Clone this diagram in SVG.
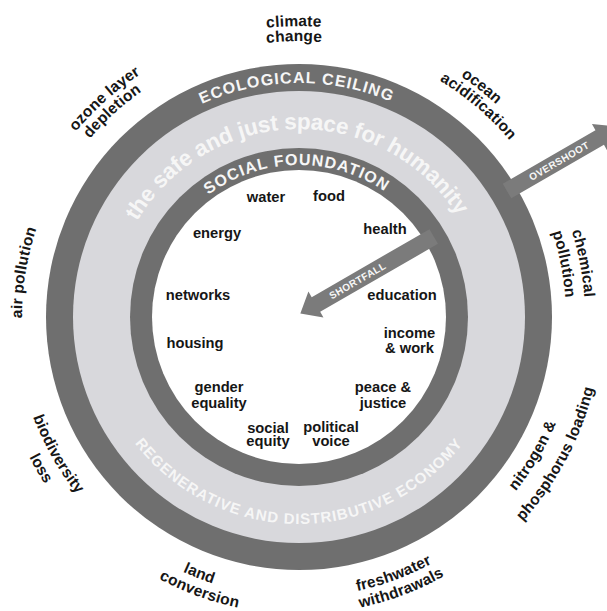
<svg xmlns="http://www.w3.org/2000/svg" width="607" height="611" viewBox="0 0 607 611">
<style>
  .f{font-family:"Liberation Sans",Arial,Helvetica,sans-serif;font-weight:bold;}
  .lbl{fill:#161616;}
  .out{font-size:15.5px;letter-spacing:0.2px;text-anchor:middle;}
  .in{font-size:14.7px;text-anchor:middle;}
  .wt{fill:#f6f6f6;text-anchor:middle;}
  .dark{fill:#6f6f6f;}
  .light{fill:#d8d8dc;}
  .arrow{fill:#7b7b7b;}
</style>
<defs>
  <!-- top arcs (clockwise, midpoint at top) -->
  <path id="t291" d="M 8 317 A 291 291 0 0 1 590 317"/>
  <path id="t276" d="M 23 317 A 276 276 0 0 1 575 317"/>
  <path id="t290" d="M 9 317 A 290 290 0 0 1 589 317"/>
  <path id="t275" d="M 24 317 A 275 275 0 0 1 574 317"/>
  <path id="t286" d="M 13 317 A 286 286 0 0 1 585 317"/>
  <path id="t267" d="M 32 317 A 267 267 0 0 1 566 317"/>
  <path id="t277" d="M 22 317 A 277 277 0 0 1 576 317"/>
  <path id="t234" d="M 65 317 A 234 234 0 0 1 533 317"/>
  <path id="t152" d="M 147 317 A 152 152 0 0 1 451 317"/>
  <path id="t188" d="M 111 317 A 188 188 0 0 1 487 317"/>
  <!-- bottom arcs (counter-clockwise, midpoint at bottom) -->
  <path id="b284" d="M 15 317 A 284 284 0 0 0 583 317"/>
  <path id="b304" d="M -5 317 A 304 304 0 0 0 603 317"/>
  <path id="b287" d="M 12 317 A 287 287 0 0 0 586 317"/>
  <path id="b280" d="M 19 317 A 280 280 0 0 0 579 317"/>
  <path id="b297" d="M 2 317 A 297 297 0 0 0 596 317"/>
  <path id="b278" d="M 21 317 A 278 278 0 0 0 577 317"/>
  <path id="b303" d="M -4 317 A 303 303 0 0 0 602 317"/>
  <path id="b207" d="M 92 317 A 207 207 0 0 0 506 317"/>
</defs>

<rect x="0" y="0" width="607" height="611" fill="#ffffff"/>

<g id="doughnut">
  <circle class="dark" cx="299" cy="317" r="253"/>
  <circle class="light" cx="299" cy="317" r="226"/>
  <circle class="dark" cx="299" cy="317" r="169"/>
  <circle cx="299" cy="317" r="147" fill="#ffffff"/>
</g>

<g id="ring-texts" class="f">
  <g id="ecological-ceiling" transform="rotate(-0.6 299 317)">
    <text class="wt" font-size="16" letter-spacing="1.1"><textPath href="#t234" startOffset="50%">ECOLOGICAL CEILING</textPath></text>
  </g>
  <g id="safe-just-space" transform="rotate(-1 299 317)">
    <text class="wt" font-size="22.5" letter-spacing="-0.2"><textPath href="#t188" startOffset="50%">the safe and just space for humanity</textPath></text>
  </g>
  <g id="social-foundation" transform="rotate(-1 299 317)">
    <text class="wt" font-size="16" letter-spacing="1.1"><textPath href="#t152" startOffset="50%">SOCIAL FOUNDATION</textPath></text>
  </g>
  <g id="regenerative-economy">
    <text class="wt" font-size="15" letter-spacing="0.95"><textPath href="#b207" startOffset="50%">REGENERATIVE AND DISTRIBUTIVE ECONOMY</textPath></text>
  </g>
</g>

<g id="connectors" class="f">
  <g id="overshoot" transform="translate(559 161) rotate(-30)">
    <polygon class="arrow" points="-60,-8.5 47,-8.5 47,-15.5 69,0 47,15.5 47,8.5 -60,8.5"/>
    <text class="wt" x="0" y="3.6" font-size="10" letter-spacing="0.4">OVERSHOOT</text>
  </g>
  <g id="shortfall" transform="translate(357.5 280.5) rotate(-30)">
    <polygon class="arrow" points="88,-8.5 -48,-8.5 -48,-15 -66,0 -48,15 -48,8.5 88,8.5"/>
    <text class="wt" x="0" y="3.6" font-size="10" letter-spacing="0.4">SHORTFALL</text>
  </g>
</g>

<g id="social-foundation-labels" class="f lbl in">
  <g id="water"><text x="266" y="201.5">water</text></g>
  <g id="food"><text x="329" y="201">food</text></g>
  <g id="energy"><text x="217" y="238">energy</text></g>
  <g id="health"><text x="385" y="233.5">health</text></g>
  <g id="networks"><text x="198" y="300">networks</text></g>
  <g id="education"><text x="402" y="300">education</text></g>
  <g id="housing"><text x="195" y="347.5">housing</text></g>
  <g id="income-work"><text x="409.5" y="337.5">income</text><text x="409.5" y="352.5">&amp; work</text></g>
  <g id="gender-equality"><text x="219" y="392">gender</text><text x="219" y="407.5">equality</text></g>
  <g id="peace-justice"><text x="383" y="392">peace &amp;</text><text x="383" y="407.5">justice</text></g>
  <g id="social-equity"><text x="268" y="432.5">social</text><text x="268" y="446">equity</text></g>
  <g id="political-voice"><text x="331" y="432">political</text><text x="331" y="446">voice</text></g>
</g>

<g id="ecological-ceiling-labels" class="f lbl out">
  <g id="climate-change" transform="rotate(-1 299 317)">
    <text><textPath href="#t291" startOffset="50%">climate</textPath></text>
    <text><textPath href="#t276" startOffset="50%">change</textPath></text>
  </g>
  <g id="ozone-layer-depletion">
    <text transform="rotate(-41.7 299 317)"><textPath href="#t290" startOffset="50%">ozone layer</textPath></text>
    <text transform="rotate(-42.2 299 317)"><textPath href="#t275" startOffset="50%">depletion</textPath></text>
  </g>
  <g id="ocean-acidification">
    <text transform="rotate(38.4 299 317)"><textPath href="#t290" startOffset="50%">ocean</textPath></text>
    <text transform="rotate(40.4 299 317)"><textPath href="#t275" startOffset="50%">acidification</textPath></text>
  </g>
  <g id="chemical-pollution">
    <text transform="rotate(79.3 299 317)"><textPath href="#t286" startOffset="50%">chemical</textPath></text>
    <text transform="rotate(78.7 299 317)"><textPath href="#t267" startOffset="50%">pollution</textPath></text>
  </g>
  <g id="air-pollution">
    <text transform="rotate(-80.8 299 317)"><textPath href="#t277" startOffset="50%">air pollution</textPath></text>
  </g>
  <g id="biodiversity-loss">
    <text transform="rotate(60.4 299 317)"><textPath href="#b284" startOffset="50%">biodiversity</textPath></text>
    <text transform="rotate(59.6 299 317)"><textPath href="#b304" startOffset="50%">loss</textPath></text>
  </g>
  <g id="land-conversion">
    <text transform="rotate(21.2 299 317)"><textPath href="#b280" startOffset="50%">land</textPath></text>
    <text transform="rotate(20 299 317)"><textPath href="#b297" startOffset="50%">conversion</textPath></text>
  </g>
  <g id="freshwater-withdrawals">
    <text transform="rotate(-20.2 299 317)"><textPath href="#b280" startOffset="50%">freshwater</textPath></text>
    <text transform="rotate(-20.6 299 317)"><textPath href="#b297" startOffset="50%">withdrawals</textPath></text>
  </g>
  <g id="nitrogen-phosphorus-loading">
    <text transform="rotate(-59.4 299 317)"><textPath href="#b278" startOffset="50%">nitrogen &amp;</textPath></text>
    <text transform="rotate(-62 299 317)"><textPath href="#b303" startOffset="50%">phosphorus loading</textPath></text>
  </g>
</g>
</svg>
